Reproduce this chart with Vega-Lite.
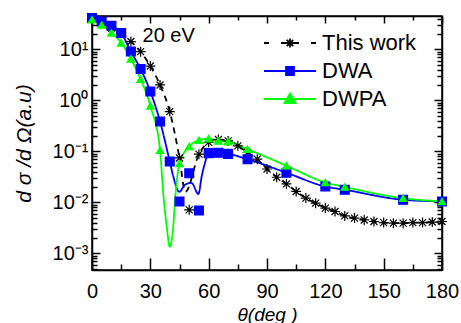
{
  "$schema": "https://vega.github.io/schema/vega-lite/v6.json",
  "width": 350,
  "height": 254,
  "autosize": "none",
  "padding": {"left": 92, "top": 16, "right": 19, "bottom": 53},
  "background": "white",
  "config": {
    "font": "Liberation Sans",
    "view": {"stroke": "black", "strokeWidth": 1.5},
    "axis": {"grid": false}
  },
  "data": {
    "values": [
      {"series": "This work", "kind": "point", "theta": 0, "value": 40},
      {"series": "This work", "kind": "point", "theta": 5, "value": 33},
      {"series": "This work", "kind": "point", "theta": 10, "value": 26},
      {"series": "This work", "kind": "point", "theta": 15, "value": 21},
      {"series": "This work", "kind": "point", "theta": 20, "value": 14.2},
      {"series": "This work", "kind": "point", "theta": 25, "value": 9.0},
      {"series": "This work", "kind": "point", "theta": 30, "value": 4.7},
      {"series": "This work", "kind": "point", "theta": 35, "value": 2.0},
      {"series": "This work", "kind": "point", "theta": 40, "value": 0.6},
      {"series": "This work", "kind": "point", "theta": 45, "value": 0.074},
      {"series": "This work", "kind": "point", "theta": 50, "value": 0.0071},
      {"series": "This work", "kind": "point", "theta": 55, "value": 0.088},
      {"series": "This work", "kind": "point", "theta": 60, "value": 0.15},
      {"series": "This work", "kind": "point", "theta": 65, "value": 0.17},
      {"series": "This work", "kind": "point", "theta": 70, "value": 0.16},
      {"series": "This work", "kind": "point", "theta": 75, "value": 0.128},
      {"series": "This work", "kind": "point", "theta": 80, "value": 0.095},
      {"series": "This work", "kind": "point", "theta": 85, "value": 0.07},
      {"series": "This work", "kind": "point", "theta": 90, "value": 0.045},
      {"series": "This work", "kind": "point", "theta": 95, "value": 0.031},
      {"series": "This work", "kind": "point", "theta": 100, "value": 0.023},
      {"series": "This work", "kind": "point", "theta": 105, "value": 0.0163},
      {"series": "This work", "kind": "point", "theta": 110, "value": 0.0121},
      {"series": "This work", "kind": "point", "theta": 115, "value": 0.0096},
      {"series": "This work", "kind": "point", "theta": 120, "value": 0.0077},
      {"series": "This work", "kind": "point", "theta": 125, "value": 0.0066},
      {"series": "This work", "kind": "point", "theta": 130, "value": 0.0054},
      {"series": "This work", "kind": "point", "theta": 135, "value": 0.0049},
      {"series": "This work", "kind": "point", "theta": 140, "value": 0.0045},
      {"series": "This work", "kind": "point", "theta": 145, "value": 0.0042},
      {"series": "This work", "kind": "point", "theta": 150, "value": 0.004},
      {"series": "This work", "kind": "point", "theta": 155, "value": 0.0039},
      {"series": "This work", "kind": "point", "theta": 160, "value": 0.0039},
      {"series": "This work", "kind": "point", "theta": 165, "value": 0.004},
      {"series": "This work", "kind": "point", "theta": 170, "value": 0.004},
      {"series": "This work", "kind": "point", "theta": 175, "value": 0.0041},
      {"series": "This work", "kind": "point", "theta": 180, "value": 0.0042},

      {"series": "This work", "kind": "line", "theta": 0, "value": 40},
      {"series": "This work", "kind": "line", "theta": 5, "value": 33},
      {"series": "This work", "kind": "line", "theta": 10, "value": 26},
      {"series": "This work", "kind": "line", "theta": 15, "value": 21},
      {"series": "This work", "kind": "line", "theta": 20, "value": 14.2},
      {"series": "This work", "kind": "line", "theta": 25, "value": 9.0},
      {"series": "This work", "kind": "line", "theta": 30, "value": 4.7},
      {"series": "This work", "kind": "line", "theta": 35, "value": 2.0},
      {"series": "This work", "kind": "line", "theta": 40, "value": 0.6},
      {"series": "This work", "kind": "line", "theta": 45, "value": 0.074},
      {"series": "This work", "kind": "line", "theta": 48, "value": 0.016},
      {"series": "This work", "kind": "line", "theta": 55, "value": 0.088},
      {"series": "This work", "kind": "line", "theta": 60, "value": 0.15},
      {"series": "This work", "kind": "line", "theta": 65, "value": 0.17},
      {"series": "This work", "kind": "line", "theta": 70, "value": 0.16},
      {"series": "This work", "kind": "line", "theta": 75, "value": 0.128},
      {"series": "This work", "kind": "line", "theta": 80, "value": 0.095},
      {"series": "This work", "kind": "line", "theta": 85, "value": 0.07},
      {"series": "This work", "kind": "line", "theta": 90, "value": 0.045},
      {"series": "This work", "kind": "line", "theta": 95, "value": 0.031},
      {"series": "This work", "kind": "line", "theta": 100, "value": 0.023},
      {"series": "This work", "kind": "line", "theta": 105, "value": 0.0163},
      {"series": "This work", "kind": "line", "theta": 110, "value": 0.0121},
      {"series": "This work", "kind": "line", "theta": 115, "value": 0.0096},
      {"series": "This work", "kind": "line", "theta": 120, "value": 0.0077},
      {"series": "This work", "kind": "line", "theta": 125, "value": 0.0066},
      {"series": "This work", "kind": "line", "theta": 130, "value": 0.0054},
      {"series": "This work", "kind": "line", "theta": 135, "value": 0.0049},
      {"series": "This work", "kind": "line", "theta": 140, "value": 0.0045},
      {"series": "This work", "kind": "line", "theta": 145, "value": 0.0042},
      {"series": "This work", "kind": "line", "theta": 150, "value": 0.004},
      {"series": "This work", "kind": "line", "theta": 155, "value": 0.0039},
      {"series": "This work", "kind": "line", "theta": 160, "value": 0.0039},
      {"series": "This work", "kind": "line", "theta": 165, "value": 0.004},
      {"series": "This work", "kind": "line", "theta": 170, "value": 0.004},
      {"series": "This work", "kind": "line", "theta": 175, "value": 0.0041},
      {"series": "This work", "kind": "line", "theta": 180, "value": 0.0042},

      {"series": "DWA", "kind": "point", "theta": 0, "value": 41},
      {"series": "DWA", "kind": "point", "theta": 5, "value": 35},
      {"series": "DWA", "kind": "point", "theta": 10, "value": 28.9},
      {"series": "DWA", "kind": "point", "theta": 15, "value": 20.8},
      {"series": "DWA", "kind": "point", "theta": 20, "value": 9.05},
      {"series": "DWA", "kind": "point", "theta": 25, "value": 4.1},
      {"series": "DWA", "kind": "point", "theta": 30, "value": 1.49},
      {"series": "DWA", "kind": "point", "theta": 35, "value": 0.384},
      {"series": "DWA", "kind": "point", "theta": 40, "value": 0.063},
      {"series": "DWA", "kind": "point", "theta": 45, "value": 0.0104},
      {"series": "DWA", "kind": "point", "theta": 50, "value": 0.037},
      {"series": "DWA", "kind": "point", "theta": 55, "value": 0.0069},
      {"series": "DWA", "kind": "point", "theta": 60, "value": 0.092},
      {"series": "DWA", "kind": "point", "theta": 65, "value": 0.094},
      {"series": "DWA", "kind": "point", "theta": 70, "value": 0.089},
      {"series": "DWA", "kind": "point", "theta": 80, "value": 0.07},
      {"series": "DWA", "kind": "point", "theta": 100, "value": 0.038},
      {"series": "DWA", "kind": "point", "theta": 120, "value": 0.0204},
      {"series": "DWA", "kind": "point", "theta": 130, "value": 0.0176},
      {"series": "DWA", "kind": "point", "theta": 160, "value": 0.0112},
      {"series": "DWA", "kind": "point", "theta": 180, "value": 0.0104},

      {"series": "DWA", "kind": "line", "theta": 0, "value": 41},
      {"series": "DWA", "kind": "line", "theta": 5, "value": 35},
      {"series": "DWA", "kind": "line", "theta": 10, "value": 28.9},
      {"series": "DWA", "kind": "line", "theta": 15, "value": 20.8},
      {"series": "DWA", "kind": "line", "theta": 20, "value": 9.05},
      {"series": "DWA", "kind": "line", "theta": 25, "value": 4.1},
      {"series": "DWA", "kind": "line", "theta": 30, "value": 1.49},
      {"series": "DWA", "kind": "line", "theta": 35, "value": 0.384},
      {"series": "DWA", "kind": "line", "theta": 40, "value": 0.063},
      {"series": "DWA", "kind": "line", "theta": 41.8, "value": 0.032},
      {"series": "DWA", "kind": "line", "theta": 44.9, "value": 0.016},
      {"series": "DWA", "kind": "line", "theta": 47.8, "value": 0.022},
      {"series": "DWA", "kind": "line", "theta": 51.2, "value": 0.024},
      {"series": "DWA", "kind": "line", "theta": 54.7, "value": 0.0145},
      {"series": "DWA", "kind": "line", "theta": 56.4, "value": 0.032},
      {"series": "DWA", "kind": "line", "theta": 58.1, "value": 0.059},
      {"series": "DWA", "kind": "line", "theta": 60, "value": 0.092},
      {"series": "DWA", "kind": "line", "theta": 65, "value": 0.094},
      {"series": "DWA", "kind": "line", "theta": 70, "value": 0.089},
      {"series": "DWA", "kind": "line", "theta": 80, "value": 0.07},
      {"series": "DWA", "kind": "line", "theta": 100, "value": 0.038},
      {"series": "DWA", "kind": "line", "theta": 120, "value": 0.0204},
      {"series": "DWA", "kind": "line", "theta": 130, "value": 0.0176},
      {"series": "DWA", "kind": "line", "theta": 160, "value": 0.0112},
      {"series": "DWA", "kind": "line", "theta": 180, "value": 0.0104},

      {"series": "DWPA", "kind": "point", "theta": 0, "value": 38},
      {"series": "DWPA", "kind": "point", "theta": 5, "value": 30},
      {"series": "DWPA", "kind": "point", "theta": 10, "value": 21},
      {"series": "DWPA", "kind": "point", "theta": 15, "value": 13.4},
      {"series": "DWPA", "kind": "point", "theta": 20, "value": 6.5},
      {"series": "DWPA", "kind": "point", "theta": 25, "value": 2.6},
      {"series": "DWPA", "kind": "point", "theta": 30, "value": 0.78},
      {"series": "DWPA", "kind": "point", "theta": 35, "value": 0.105},
      {"series": "DWPA", "kind": "point", "theta": 45, "value": 0.058},
      {"series": "DWPA", "kind": "point", "theta": 50, "value": 0.124},
      {"series": "DWPA", "kind": "point", "theta": 55, "value": 0.165},
      {"series": "DWPA", "kind": "point", "theta": 60, "value": 0.177},
      {"series": "DWPA", "kind": "point", "theta": 65, "value": 0.16},
      {"series": "DWPA", "kind": "point", "theta": 70, "value": 0.155},
      {"series": "DWPA", "kind": "point", "theta": 80, "value": 0.11},
      {"series": "DWPA", "kind": "point", "theta": 100, "value": 0.052},
      {"series": "DWPA", "kind": "point", "theta": 120, "value": 0.0245},
      {"series": "DWPA", "kind": "point", "theta": 130, "value": 0.02},
      {"series": "DWPA", "kind": "point", "theta": 160, "value": 0.012},
      {"series": "DWPA", "kind": "point", "theta": 180, "value": 0.0104},

      {"series": "DWPA", "kind": "line", "theta": 0, "value": 38},
      {"series": "DWPA", "kind": "line", "theta": 5, "value": 30},
      {"series": "DWPA", "kind": "line", "theta": 10, "value": 21},
      {"series": "DWPA", "kind": "line", "theta": 15, "value": 13.4},
      {"series": "DWPA", "kind": "line", "theta": 20, "value": 6.5},
      {"series": "DWPA", "kind": "line", "theta": 25, "value": 2.6},
      {"series": "DWPA", "kind": "line", "theta": 30, "value": 0.78},
      {"series": "DWPA", "kind": "line", "theta": 35, "value": 0.105},
      {"series": "DWPA", "kind": "line", "theta": 36.7, "value": 0.014},
      {"series": "DWPA", "kind": "line", "theta": 38.4, "value": 0.0034},
      {"series": "DWPA", "kind": "line", "theta": 40, "value": 0.00135},
      {"series": "DWPA", "kind": "line", "theta": 41.8, "value": 0.0034},
      {"series": "DWPA", "kind": "line", "theta": 42.7, "value": 0.011},
      {"series": "DWPA", "kind": "line", "theta": 44, "value": 0.035},
      {"series": "DWPA", "kind": "line", "theta": 45, "value": 0.058},
      {"series": "DWPA", "kind": "line", "theta": 50, "value": 0.124},
      {"series": "DWPA", "kind": "line", "theta": 55, "value": 0.165},
      {"series": "DWPA", "kind": "line", "theta": 60, "value": 0.177},
      {"series": "DWPA", "kind": "line", "theta": 65, "value": 0.16},
      {"series": "DWPA", "kind": "line", "theta": 70, "value": 0.155},
      {"series": "DWPA", "kind": "line", "theta": 80, "value": 0.11},
      {"series": "DWPA", "kind": "line", "theta": 100, "value": 0.052},
      {"series": "DWPA", "kind": "line", "theta": 120, "value": 0.0245},
      {"series": "DWPA", "kind": "line", "theta": 130, "value": 0.02},
      {"series": "DWPA", "kind": "line", "theta": 160, "value": 0.012},
      {"series": "DWPA", "kind": "line", "theta": 180, "value": 0.0104}
    ]
  },
  "resolve": {
    "axis": {"x": "independent", "y": "independent"},
    "scale": {"shape": "independent", "fill": "independent", "stroke": "independent", "size": "independent"}
  },
  "layer": [
    {
      "transform": [{"filter": "datum.kind === 'line'"}],
      "mark": {"type": "line", "interpolate": "monotone", "strokeWidth": 1.8},
      "encoding": {
        "x": {
          "field": "theta", "type": "quantitative",
          "scale": {"domain": [0, 180], "nice": false, "zero": false},
          "axis": {
            "orient": "bottom",
            "values": [0, 15, 30, 45, 60, 75, 90, 105, 120, 135, 150, 165, 180],
            "labelExpr": "datum.value % 30 == 0 ? datum.label : ''",
            "tickSize": {"condition": {"test": "datum.value % 30 == 0", "value": -12}, "value": -6},
            "tickColor": "black", "tickWidth": 1.5,
            "domainColor": "black", "domainWidth": 1.5,
            "labelFontSize": 20, "labelColor": "black", "labelPadding": 23,
            "labelFlush": false,
            "title": "θ(deg )", "titleFontSize": 19, "titleFontStyle": "italic",
            "titleFontWeight": "normal", "titleColor": "black",
            "titleY": 44, "titleBaseline": "middle"
          }
        },
        "y": {
          "field": "value", "type": "quantitative",
          "scale": {"type": "log", "domain": [0.00047, 45], "nice": false},
          "axis": {
            "orient": "left",
            "values": [0.0005, 0.0006, 0.0007, 0.0008, 0.0009, 0.001, 0.002, 0.003, 0.004, 0.005, 0.006, 0.007, 0.008, 0.009, 0.01, 0.02, 0.03, 0.04, 0.05, 0.06, 0.07, 0.08, 0.09, 0.1, 0.2, 0.3, 0.4, 0.5, 0.6, 0.7, 0.8, 0.9, 1, 2, 3, 4, 5, 6, 7, 8, 9, 10, 20, 30, 40],
            "labelExpr": "datum.value == 10 ? '10¹' : datum.value == 1 ? '10⁰' : datum.value == 0.1 ? '10⁻¹' : datum.value == 0.01 ? '10⁻²' : datum.value == 0.001 ? '10⁻³' : ''",
            "tickSize": {"condition": {"test": "indexof([10, 1, 0.1, 0.01, 0.001], datum.value) >= 0", "value": -8}, "value": -5},
            "tickColor": "black", "tickWidth": 1.5,
            "domainColor": "black", "domainWidth": 1.5,
            "labelFontSize": 20, "labelColor": "black", "labelPadding": 12,
            "labelFlush": false, "labelOverlap": false,
            "title": "d σ /d Ω(a.u)", "titleFontSize": 21, "titleFontStyle": "italic",
            "titleFontWeight": "normal", "titleColor": "black",
            "titleX": -68, "titleY": 127, "titleBaseline": "middle", "titleAlign": "center"
          }
        },
        "color": {
          "field": "series", "type": "nominal",
          "scale": {"domain": ["This work", "DWA", "DWPA"], "range": ["#000000", "#0000ff", "#00ff00"]},
          "legend": null
        },
        "strokeDash": {
          "field": "series", "type": "nominal",
          "scale": {"domain": ["This work", "DWA", "DWPA"], "range": [[6, 5], [1, 0], [1, 0]]},
          "legend": null
        }
      }
    },
    {
      "transform": [{"filter": "datum.kind === 'point'"}],
      "mark": {"type": "point", "filled": true, "strokeWidth": 1.2, "opacity": 1},
      "encoding": {
        "x": {
          "field": "theta", "type": "quantitative",
          "axis": {
            "orient": "top",
            "values": [0, 15, 30, 45, 60, 75, 90, 105, 120, 135, 150, 165, 180],
            "labels": false, "title": null,
            "tickSize": {"condition": {"test": "datum.value % 30 == 0", "value": -7}, "value": -4},
            "tickColor": "black", "tickWidth": 1.5, "domainColor": "black", "domainWidth": 1.5
          }
        },
        "y": {
          "field": "value", "type": "quantitative",
          "axis": {
            "orient": "right",
            "values": [0.0005, 0.0006, 0.0007, 0.0008, 0.0009, 0.001, 0.002, 0.003, 0.004, 0.005, 0.006, 0.007, 0.008, 0.009, 0.01, 0.02, 0.03, 0.04, 0.05, 0.06, 0.07, 0.08, 0.09, 0.1, 0.2, 0.3, 0.4, 0.5, 0.6, 0.7, 0.8, 0.9, 1, 2, 3, 4, 5, 6, 7, 8, 9, 10, 20, 30, 40],
            "labels": false, "title": null,
            "tickSize": {"condition": {"test": "indexof([10, 1, 0.1, 0.01, 0.001], datum.value) >= 0", "value": -8}, "value": -5},
            "tickColor": "black", "tickWidth": 1.5, "domainColor": "black", "domainWidth": 1.5
          }
        },
        "shape": {
          "field": "series", "type": "nominal",
          "scale": {"domain": ["This work", "DWA", "DWPA"], "range": ["M-1,0L1,0M0,-1L0,1M-0.7,-0.7L0.7,0.7M-0.7,0.7L0.7,-0.7", "square", "triangle-up"]},
          "legend": null
        },
        "fill": {
          "field": "series", "type": "nominal",
          "scale": {"domain": ["This work", "DWA", "DWPA"], "range": ["transparent", "#0000ff", "#00ff00"]},
          "legend": null
        },
        "stroke": {
          "field": "series", "type": "nominal",
          "scale": {"domain": ["This work", "DWA", "DWPA"], "range": ["#000000", "#0000ff", "#00ff00"]},
          "legend": null
        },
        "size": {
          "field": "series", "type": "nominal",
          "scale": {"domain": ["This work", "DWA", "DWPA"], "range": [100, 56, 80]},
          "legend": null
        }
      }
    },
    {
      "transform": [{"filter": "datum.kind === 'point'"}],
      "mark": {"type": "point", "filled": true, "size": 0, "strokeWidth": 1.8},
      "encoding": {
        "x": {"field": "theta", "type": "quantitative", "axis": null},
        "y": {"field": "value", "type": "quantitative", "axis": null},
        "shape": {
          "field": "series", "type": "nominal",
          "scale": {"domain": ["This work", "DWA", "DWPA"], "range": [
            "M-2.6,0L-2.1,0M-0.9,0L-0.4,0M0.4,0L0.9,0M2.1,0L2.6,0M-0.45,0L0.45,0M0,-0.45L0,0.45M-0.32,-0.32L0.32,0.32M-0.32,0.32L0.32,-0.32",
            "M-2.6,0L2.6,0M-0.4,-0.4L0.4,-0.4L0.4,0.4L-0.4,0.4Z",
            "M-2.6,0L2.6,0M0,-0.55L0.55,0.4L-0.55,0.4Z"
          ]},
          "legend": {
            "orient": "none", "legendX": 187, "legendY": 16, "title": null, "padding": 0,
            "labelFontSize": 22, "labelColor": "black", "labelOffset": 21,
            "symbolSize": 400, "symbolStrokeWidth": 1.8, "symbolOpacity": 1, "rowPadding": 6
          }
        },
        "fill": {
          "field": "series", "type": "nominal",
          "scale": {"domain": ["This work", "DWA", "DWPA"], "range": ["transparent", "#0000ff", "#00ff00"]},
          "legend": {
            "orient": "none", "legendX": 187, "legendY": 16, "title": null, "padding": 0,
            "labelFontSize": 22, "labelColor": "black", "labelOffset": 21,
            "symbolSize": 400, "symbolStrokeWidth": 1.8, "symbolOpacity": 1, "rowPadding": 6
          }
        },
        "stroke": {
          "field": "series", "type": "nominal",
          "scale": {"domain": ["This work", "DWA", "DWPA"], "range": ["#000000", "#0000ff", "#00ff00"]},
          "legend": {
            "orient": "none", "legendX": 187, "legendY": 16, "title": null, "padding": 0,
            "labelFontSize": 22, "labelColor": "black", "labelOffset": 21,
            "symbolSize": 400, "symbolStrokeWidth": 1.8, "symbolOpacity": 1, "rowPadding": 6
          }
        }
      }
    },
    {
      "data": {"values": [{"label": "20 eV"}]},
      "mark": {"type": "text", "align": "left", "baseline": "middle", "fontSize": 20, "color": "black"},
      "encoding": {
        "x": {"datum": 26, "type": "quantitative", "axis": null},
        "y": {"datum": 18.4, "type": "quantitative", "axis": null},
        "text": {"field": "label"}
      }
    }
  ]
}
